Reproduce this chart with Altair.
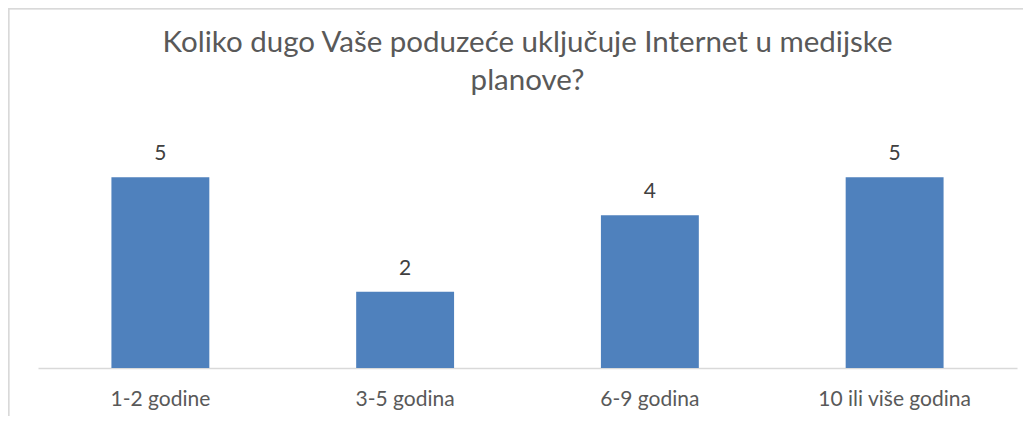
import altair as alt
import pandas as pd

categories = ["1-2 godine", "3-5 godina", "6-9 godina", "10 ili više godina"]
values = [5, 2, 4, 5]
title_lines = ["Koliko dugo Vaše poduzeće uključuje Internet u medijske", "planove?"]

df = pd.DataFrame({"cat": categories, "val": values})
FONT = "Lato"

x = alt.X("cat:N", sort=categories, title=None,
          scale=alt.Scale(paddingInner=0.6, paddingOuter=0.3),
          axis=alt.Axis(labelAngle=0, labelFont=FONT, labelFontSize=21, labelColor="#595959",
                        labelPadding=20, ticks=False, domainColor="#d9d9d9", domainWidth=1.5,
                        grid=False))
y = alt.Y("val:Q", title=None, scale=alt.Scale(domain=[0, 6]), axis=None)

bars = alt.Chart(df).mark_bar(color="#4f81bd").encode(x=x, y=y)
labels = alt.Chart(df).mark_text(dy=-23, font=FONT, fontSize=21, color="#404040").encode(
    x=x, y=y, text="val:Q")
border = alt.Chart(df).mark_rect(fill=None, stroke="#d9d9d9", strokeWidth=1.5).encode(
    x=alt.value(-29.5), x2=alt.value(1100), y=alt.value(-130.5), y2=alt.value(400))

chart = alt.layer(border, bars, labels).properties(
    width=979, height=229,
    padding={"left": 30, "top": 131, "right": 6, "bottom": 48},
    autosize=alt.AutoSizeParams(type="none"),
    title=alt.TitleParams(title_lines, font=FONT, fontSize=29.5, fontWeight="normal",
                          color="#595959", anchor="middle", frame="group",
                          baseline="alphabetic", offset=-112, lineHeight=38),
).configure_view(stroke=None)

chart.save("out.html", embed_options={"renderer": "svg", "actions": False})
